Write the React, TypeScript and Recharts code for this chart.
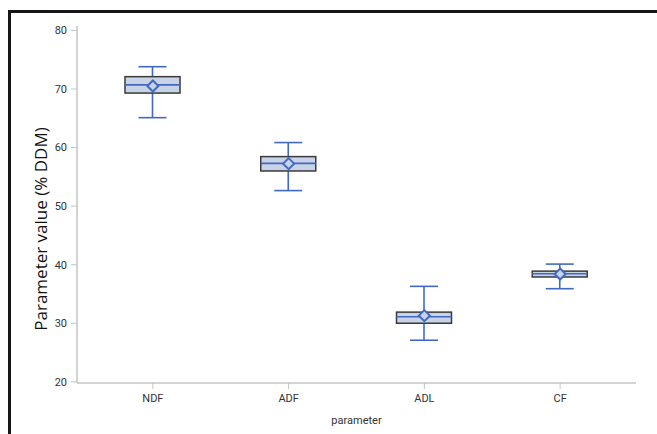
import React from "react";
import { ComposedChart, Bar, Scatter, XAxis, YAxis } from "recharts";

const categories = ["NDF", "ADF", "ADL", "CF"];
const whiskerLow = [65.1, 52.65, 27.1, 35.9];
const q1 = [69.3, 56.0, 30.0, 37.9];
const median = [70.7, 57.3, 31.1, 38.45];
const q3 = [72.1, 58.45, 31.9, 38.9];
const whiskerHigh = [73.8, 60.85, 36.3, 40.1];
const means = [70.5, 57.25, 31.3, 38.4];
const yTicks = [20, 30, 40, 50, 60, 70, 80];

const BOX_FILL = "#c8d3e7";
const BOX_EDGE = "#3a3a3a";
const BLUE = "#4169c4";
const FRAME = "#c4c4c4";
const TICK_TEXT = "#333";

const data = categories.map((name, i) => ({
  name,
  low: whiskerLow[i],
  q1: q1[i],
  median: median[i],
  q3: q3[i],
  high: whiskerHigh[i],
  mean: means[i],
}));

function BoxShape(props: any) {
  const { x, y, width, height, payload } = props;
  if (payload == null) return null;
  const top = Math.min(y, y + height);
  const bottom = Math.max(y, y + height);
  const k = (bottom - top) / (payload.high - payload.low);
  const px = (v: number) => bottom - (v - payload.low) * k;
  const cx = x + width / 2;
  const capHalf = 14;
  const yQ1 = px(payload.q1);
  const yQ3 = px(payload.q3);
  const yMed = px(payload.median);
  return (
    <g>
      <line x1={cx} x2={cx} y1={top} y2={yQ3} stroke={BLUE} strokeWidth={1.6} />
      <line x1={cx} x2={cx} y1={yQ1} y2={bottom} stroke={BLUE} strokeWidth={1.6} />
      <line x1={cx - capHalf} x2={cx + capHalf} y1={top} y2={top} stroke={BLUE} strokeWidth={1.6} />
      <line x1={cx - capHalf} x2={cx + capHalf} y1={bottom} y2={bottom} stroke={BLUE} strokeWidth={1.6} />
      <rect
        x={x}
        y={yQ3}
        width={width}
        height={yQ1 - yQ3}
        fill={BOX_FILL}
        stroke={BOX_EDGE}
        strokeWidth={1.5}
      />
      <line x1={x} x2={x + width} y1={yMed} y2={yMed} stroke={BLUE} strokeWidth={1.6} />
    </g>
  );
}

function Diamond(props: any) {
  const { cx, cy } = props;
  const r = 5.5;
  return (
    <polygon
      points={`${cx},${cy - r} ${cx + r},${cy} ${cx},${cy + r} ${cx - r},${cy}`}
      fill={BOX_FILL}
      stroke={BLUE}
      strokeWidth={2}
    />
  );
}

function YLabel() {
  return (
    <text
      x={40}
      y={229}
      transform="rotate(-90 40 229)"
      textAnchor="middle"
      dominantBaseline="central"
      fontSize={17}
      fill="#111"
      fontFamily="'Open Sans', sans-serif"
    >
      Parameter value (% DDM)
    </text>
  );
}

export default function App() {
  const tickStyle = { fontSize: 11, fill: TICK_TEXT, fontFamily: "Roboto, sans-serif" };
  return (
    <div style={{ position: "absolute", left: 0, top: 0, width: 657, height: 434, background: "#fff" }}>
      <div
        style={{
          position: "absolute",
          left: 8,
          top: 10,
          right: 0,
          bottom: 0,
          borderTop: "3px solid #161616",
          borderLeft: "3px solid #161616",
        }}
      />
      <div style={{ position: "absolute", left: 0, top: 0 }}>
        <ComposedChart
          width={657}
          height={434}
          data={data}
          margin={{ top: 26, right: 21, bottom: 6, left: 17 }}
        >
          <XAxis
            dataKey="name"
            padding={{ left: 8, right: 8 }}
            height={45}
            tickSize={6}
            tickMargin={5}
            tick={tickStyle}
            axisLine={{ stroke: FRAME, strokeWidth: 1.5 }}
            tickLine={{ stroke: FRAME }}
            label={{
              value: "parameter",
              position: "insideBottom",
              offset: 4,
              style: { fontSize: 11, fill: TICK_TEXT, fontFamily: "Roboto, sans-serif" },
            }}
          />
          <XAxis
            xAxisId="top"
            dataKey="name"
            orientation="top"
            height={0}
            tick={false}
            tickLine={false}
            axisLine={{ stroke: FRAME, strokeWidth: 1.5 }}
          />
          <YAxis
            domain={[19.8, 80.75]}
            ticks={yTicks}
            width={60}
            tickSize={6}
            tickMargin={4}
            tick={tickStyle}
            axisLine={{ stroke: FRAME, strokeWidth: 1.5 }}
            tickLine={{ stroke: FRAME }}
            allowDataOverflow
            label={<YLabel />}
          />
          <YAxis
            yAxisId="right"
            orientation="right"
            domain={[19.8, 80.75]}
            width={0}
            tick={false}
            tickLine={false}
            axisLine={{ stroke: FRAME, strokeWidth: 1.5 }}
          />
          <Bar
            dataKey={(d: any) => [d.low, d.high]}
            barSize={55}
            shape={<BoxShape />}
            isAnimationActive={false}
          />
          <Scatter dataKey="mean" shape={<Diamond />} isAnimationActive={false} />
        </ComposedChart>
      </div>
    </div>
  );
}
